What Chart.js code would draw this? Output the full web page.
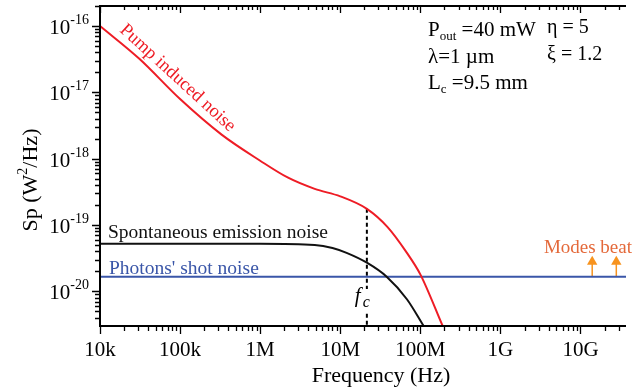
<!DOCTYPE html>
<html>
<head>
<meta charset="utf-8">
<script src="https://cdn.jsdelivr.net/npm/chart.js@4/dist/chart.umd.min.js"></script>
<style>
html, body { margin: 0; padding: 0; background: #fff; }
#wrap { width: 632px; height: 392px; }
</style>
</head>
<body>
<div id="wrap"><canvas id="noiseChart"></canvas></div>
<script>
// axis ranges and tick labels
var freqMin = 1e4, freqMax = 3.7e10;
var spMin = 3.0e-21, spMax = 2.0e-16;
var freqTicks = [1e4, 1e5, 1e6, 1e7, 1e8, 1e9, 1e10];
var freqTickLabels = ['10k', '100k', '1M', '10M', '100M', '1G', '10G'];
var spExponents = [-20, -19, -18, -17, -16];

// pump induced noise (red)
var pumpFreq = [1e4, 3.1e4, 1e5, 3.3e5, 1e6, 2.2e6, 4.8e6, 1e7, 2.15e7, 3.9e7, 6.8e7, 1e8, 1.9e8];
var pumpSp = [1e-16, 3.2e-17, 7.9e-18, 2.3e-18, 9.3e-19, 5.2e-19, 3.5e-19, 2.7e-19, 1.75e-19, 9.3e-20, 3.8e-20, 1.8e-20, 3.0e-21];

// spontaneous emission noise (black)
var spontFreq = [1e4, 1e6, 4.8e6, 8e6, 1.2e7, 2.15e7, 3.8e7, 6.8e7, 1.1e8];
var spontSp = [5.2e-20, 5.2e-20, 5.0e-20, 4.5e-20, 3.8e-20, 2.7e-20, 1.66e-20, 7.6e-21, 3.0e-21];

// photons' shot noise (blue)
var shotFreq = [1e4, 3.7e10];
var shotSp = [1.66e-20, 1.66e-20];

// corner frequency marker
var cornerFreq = [2.15e7, 2.15e7];
var cornerSp = [1.75e-19, 3.0e-21];

// modes beat arrows
var beatFreq = [1.4e10, 2.8e10];
var beatSp = [1.66e-20, 2.8e-20];

function toPoints(xs, ys) {
    return xs.map(function(x, i) { return { x: x, y: ys[i] }; });
}

var SERIF = '"Liberation Serif", "DejaVu Serif", serif';

function drawScript(ctx, x, y, parts) {
    // parts: [text, size, dy, style]
    parts.forEach(function(p) {
        ctx.font = (p[3] ? p[3] + ' ' : '') + p[1] + 'px ' + SERIF;
        ctx.fillText(p[0], x, y + (p[2] || 0));
        x += ctx.measureText(p[0]).width;
    });
    return x;
}

function widthOf(ctx, parts) {
    var w = 0;
    parts.forEach(function(p) {
        ctx.font = (p[3] ? p[3] + ' ' : '') + p[1] + 'px ' + SERIF;
        w += ctx.measureText(p[0]).width;
    });
    return w;
}

var axesPlugin = {
    id: 'axesPlugin',
    afterDraw: function(chart) {
        var ctx = chart.ctx;
        var a = chart.chartArea;
        var xs = chart.scales.x, ys = chart.scales.y;
        ctx.save();
        ctx.strokeStyle = '#000';
        ctx.fillStyle = '#000';

        // frame lines
        ctx.lineWidth = 2;
        ctx.beginPath();
        ctx.moveTo(a.left, a.top); ctx.lineTo(a.left, a.bottom + 1);
        ctx.moveTo(a.left - 1, a.bottom); ctx.lineTo(a.right, a.bottom);
        ctx.moveTo(a.left - 1, a.top); ctx.lineTo(a.right, a.top);
        ctx.stroke();

        // x ticks (bottom outward, top inward)
        ctx.lineWidth = 1.3;
        ctx.beginPath();
        for (var e = 4; e <= 10; e++) {
            for (var m = 1; m <= 9; m++) {
                var v = m * Math.pow(10, e);
                if (v < freqMin || v > freqMax) continue;
                var px = Math.round(xs.getPixelForValue(v)) + 0.5;
                var len = m === 1 ? 8 : 5;
                ctx.moveTo(px, a.bottom); ctx.lineTo(px, a.bottom + len);
                ctx.moveTo(px, a.top); ctx.lineTo(px, a.top + len - 1);
            }
        }
        // y ticks (left outward)
        for (var ey = -21; ey <= -16; ey++) {
            for (var my = 1; my <= 9; my++) {
                var vy = my * Math.pow(10, ey);
                if (vy < spMin || vy > spMax) continue;
                var py = Math.round(ys.getPixelForValue(vy)) + 0.5;
                var leny = my === 1 ? 8 : 5;
                ctx.moveTo(a.left, py); ctx.lineTo(a.left - leny, py);
            }
        }
        ctx.stroke();

        // x tick labels
        ctx.textAlign = 'center';
        ctx.textBaseline = 'alphabetic';
        ctx.font = '21px ' + SERIF;
        freqTicks.forEach(function(v, i) {
            ctx.fillText(freqTickLabels[i], xs.getPixelForValue(v), a.bottom + 30);
        });

        // y tick labels with superscript exponent
        ctx.textAlign = 'left';
        spExponents.forEach(function(ex) {
            var py = ys.getPixelForValue(Math.pow(10, ex));
            var parts = [['10', 21, 0], [String(ex), 14, -10]];
            var w = widthOf(ctx, parts);
            drawScript(ctx, 89 - w, py + 8, parts);
        });

        // axis titles
        ctx.font = '22px ' + SERIF;
        ctx.textAlign = 'center';
        ctx.fillText('Frequency (Hz)', 381, 382);

        ctx.save();
        ctx.translate(37, 180);
        ctx.rotate(-Math.PI / 2);
        ctx.textAlign = 'left';
        var tparts = [['Sp (W', 22, 0], ['2', 14, -10], ['/Hz)', 22, 0]];
        drawScript(ctx, -widthOf(ctx, tparts) / 2, 0, tparts);
        ctx.restore();

        // parameters
        ctx.textAlign = 'left';
        drawScript(ctx, 428, 36, [['P', 21, 0], ['out', 13, 4], [' =40 mW', 21, 0]]);
        drawScript(ctx, 547, 33, [['\u03b7 = 5', 20, 0]]);
        drawScript(ctx, 428, 63, [['\u03bb=1 \u00b5m', 21, 0]]);
        drawScript(ctx, 547, 60, [['\u03be = 1.2', 20, 0]]);
        drawScript(ctx, 428, 89, [['L', 21, 0], ['c', 13, 4], [' =9.5 mm', 21, 0]]);

        // curve labels
        ctx.font = '19.5px ' + SERIF;
        ctx.fillStyle = '#111';
        ctx.fillText('Spontaneous emission noise', 108, 238);
        ctx.fillStyle = '#3a56a8';
        ctx.fillText("Photons' shot noise", 109, 274);
        ctx.fillStyle = '#e4693a';
        ctx.textAlign = 'right';
        ctx.font = '19px ' + SERIF;
        ctx.fillText('Modes beat', 632, 253);

        ctx.save();
        ctx.fillStyle = '#ee1c25';
        ctx.textAlign = 'left';
        ctx.translate(119, 31);
        ctx.rotate(42.5 * Math.PI / 180);
        ctx.font = '18.5px ' + SERIF;
        ctx.fillText('Pump induced noise', 0, 0);
        ctx.restore();

        // f_c label, with a gap in the dashed line behind it
        var fx = xs.getPixelForValue(cornerFreq[0]);
        ctx.fillStyle = '#fff';
        ctx.fillRect(fx - 13, 289, 19, 22);
        ctx.fillStyle = '#000';
        ctx.textAlign = 'left';
        drawScript(ctx, fx - 12, 302, [['f', 21, 0, 'italic']]);
        drawScript(ctx, fx - 4, 307, [['c', 16, 0, 'italic']]);
        ctx.restore();
    }
};

var ctx = document.getElementById('noiseChart').getContext('2d');
var myChart = new Chart(ctx, {
    type: 'line',
    data: {
        datasets: [
            {
                label: 'Pump induced noise',
                data: toPoints(pumpFreq, pumpSp),
                borderColor: '#ee1c25',
                borderWidth: 2,
                pointRadius: 0,
                cubicInterpolationMode: 'monotone'
            },
            {
                label: 'Spontaneous emission noise',
                data: toPoints(spontFreq, spontSp),
                borderColor: '#111',
                borderWidth: 2,
                pointRadius: 0,
                cubicInterpolationMode: 'monotone'
            },
            {
                label: "Photons' shot noise",
                data: toPoints(shotFreq, shotSp),
                borderColor: '#3a56a8',
                borderWidth: 2,
                pointRadius: 0
            },
            {
                label: 'fc',
                data: toPoints(cornerFreq, cornerSp),
                borderColor: '#000',
                borderWidth: 2,
                borderDash: [4, 3],
                pointRadius: 0
            },
            {
                label: 'beat1',
                data: toPoints([beatFreq[0], beatFreq[0]], beatSp),
                borderColor: '#f7931e',
                backgroundColor: '#f7931e',
                borderWidth: 1.5,
                pointStyle: 'triangle',
                pointRadius: [0, 6],
                pointBorderWidth: 0
            },
            {
                label: 'beat2',
                data: toPoints([beatFreq[1], beatFreq[1]], beatSp),
                borderColor: '#f7931e',
                backgroundColor: '#f7931e',
                borderWidth: 1.5,
                pointStyle: 'triangle',
                pointRadius: [0, 6],
                pointBorderWidth: 0
            }
        ]
    },
    options: {
        responsive: true,
        maintainAspectRatio: false,
        animation: false,
        layout: { padding: { top: 4, right: 0, left: 0, bottom: 0 } },
        plugins: { legend: { display: false }, tooltip: { enabled: false } },
        scales: {
            x: {
                type: 'logarithmic',
                min: freqMin,
                max: freqMax,
                grid: { display: false },
                border: { display: false },
                ticks: { display: false },
                afterFit: function(scale) { scale.height = 66; }
            },
            y: {
                type: 'logarithmic',
                min: spMin,
                max: spMax,
                grid: { display: false },
                border: { display: false },
                ticks: { display: false },
                afterFit: function(scale) { scale.width = 100; }
            }
        }
    },
    plugins: [axesPlugin]
});
</script>
</body>
</html>
